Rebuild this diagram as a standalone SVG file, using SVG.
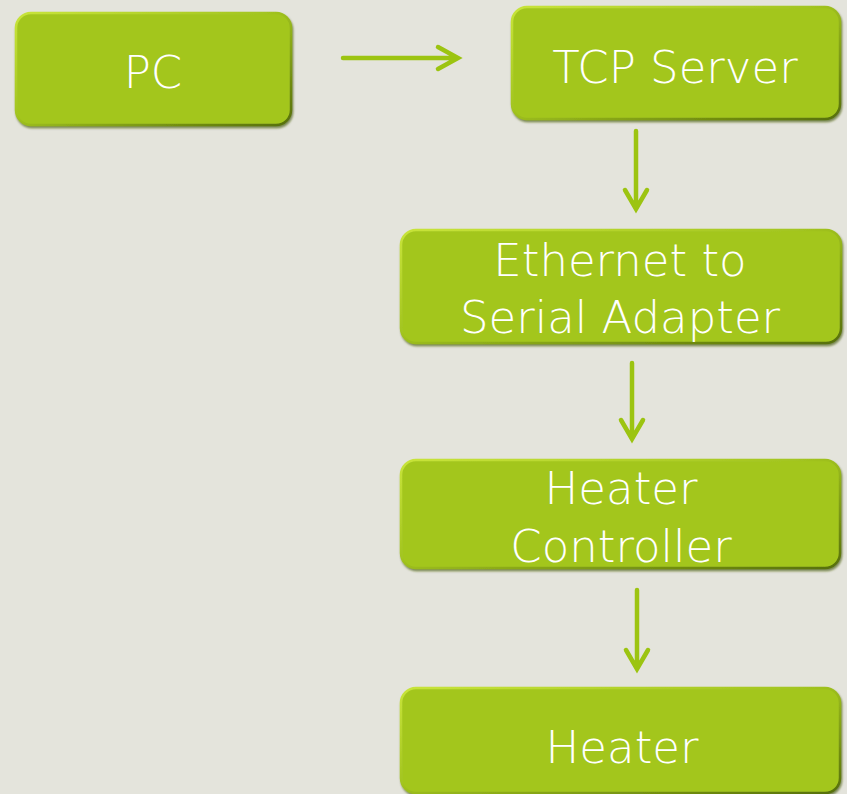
<svg xmlns="http://www.w3.org/2000/svg" width="847" height="794" viewBox="0 0 847 794">
<defs>
<linearGradient id="edge" x1="0" y1="0" x2="1" y2="1">
<stop offset="0" stop-color="#c8e43a"/>
<stop offset="0.45" stop-color="#a3c520"/>
<stop offset="1" stop-color="#566f08"/>
</linearGradient>
<filter id="sh" x="-5%" y="-5%" width="110%" height="115%">
<feDropShadow dx="1" dy="2" stdDeviation="1.2" flood-color="#4a5e08" flood-opacity="0.7"/>
</filter>
</defs>
<style>
.box{fill:#a3c61f;stroke:url(#edge);stroke-width:2.5;filter:url(#sh)}
.lbl{fill:#ffffff;font-family:"DejaVu Sans","Liberation Sans",sans-serif;font-weight:200;font-size:45px;text-anchor:middle}
.con{fill:none;stroke:#9cc411;stroke-width:4.5;stroke-linecap:round;stroke-linejoin:miter}
</style>
<rect width="847" height="794" fill="#e4e4dc"/>
<g id="connectors">
<path class="con" d="M343 58 H458 M438 47 L458 58 L438 69"/>
<path class="con" d="M636 131 V208 M625 190 L636 209 L647 190"/>
<path class="con" d="M632 363 V438 M621 420 L632 439 L643 420"/>
<path class="con" d="M637 590 V668 M626 650 L637 669 L648 650"/>
</g>
<g id="pc">
<rect class="box" x="16" y="13" width="275" height="112" rx="15"/>
<text class="lbl" x="153" y="88">PC</text>
</g>
<g id="tcp-server">
<rect class="box" x="512" y="7" width="328" height="112" rx="15"/>
<text class="lbl" x="675" y="83">TCP Server</text>
</g>
<g id="adapter">
<rect class="box" x="401" y="230" width="440" height="113" rx="15"/>
<text class="lbl" x="620" y="276">Ethernet to</text>
<text class="lbl" x="620" y="333">Serial Adapter</text>
</g>
<g id="controller">
<rect class="box" x="401" y="460" width="439" height="108" rx="15"/>
<text class="lbl" x="621" y="504">Heater</text>
<text class="lbl" x="621" y="562">Controller</text>
</g>
<g id="heater">
<rect class="box" x="401" y="688" width="439" height="105" rx="15"/>
<text class="lbl" x="622" y="763">Heater</text>
</g>
</svg>
